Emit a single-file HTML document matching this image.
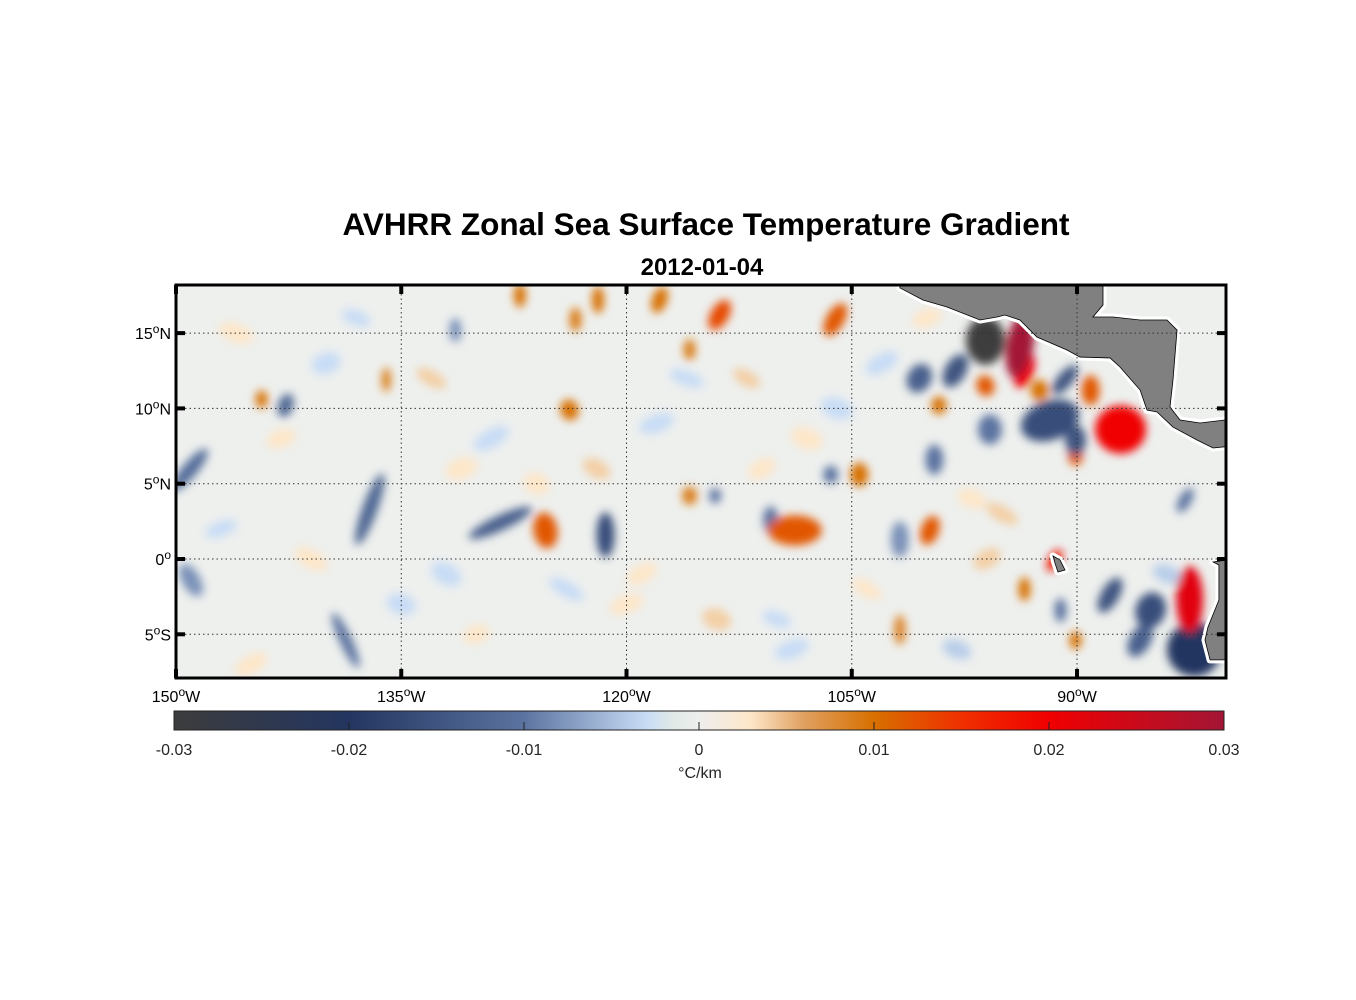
<!DOCTYPE html>
<html><head><meta charset="utf-8">
<style>
html,body{margin:0;padding:0;background:#fff;}
body{width:1356px;height:1000px;position:relative;overflow:hidden;font-family:"Liberation Sans",Arial,sans-serif;}
svg{position:absolute;left:0;top:0;}
</style></head>
<body>
<svg id="chart" width="1356" height="1000" viewBox="0 0 1356 1000">
<defs>
<filter id="blur" x="-50%" y="-50%" width="200%" height="200%"><feGaussianBlur stdDeviation="4.5"/></filter>
<clipPath id="mapclip"><rect x="176" y="285" width="1050" height="393"/></clipPath>
<linearGradient id="cmap" x1="0" x2="1" y1="0" y2="0">
<stop offset="0" stop-color="#3c3c3c"/>
<stop offset="0.1667" stop-color="#233560"/>
<stop offset="0.3333" stop-color="#5b73a0"/>
<stop offset="0.45" stop-color="#c8dcf5"/>
<stop offset="0.475" stop-color="#e0eae6"/>
<stop offset="0.5" stop-color="#eeeeee"/>
<stop offset="0.55" stop-color="#fde6c8"/>
<stop offset="0.6" stop-color="#e0a060"/>
<stop offset="0.6667" stop-color="#d77000"/>
<stop offset="0.75" stop-color="#f03000"/>
<stop offset="0.8333" stop-color="#f00000"/>
<stop offset="1" stop-color="#a31535"/>
</linearGradient>
</defs>
<text x="706" y="235" text-anchor="middle" font-size="31.5" font-weight="bold" fill="#000">AVHRR Zonal Sea Surface Temperature Gradient</text>
<text x="702" y="275" text-anchor="middle" font-size="24" font-weight="bold" fill="#000">2012-01-04</text>
<g id="map" clip-path="url(#mapclip)">
<rect x="176" y="285" width="1050" height="393" fill="#eef0ee"/>
<g id="blobs" filter="url(#blur)"></g>
<g id="land"></g>
<g id="grid"></g>
</g>
<g id="axes"></g>
<g id="cbar"></g>
</svg>
<script>
// Data: gradient anomaly blobs (lon, lat, value in 0.01 °C/km)
const blobLon = [-149.1,-142.7,-144.3,-137.1,-138.7,-149,-136,-131.4,-128.4,-125.4,-121.4,-123.8,-127.1,-123.4,-121.9,-117.8,-113.8,-115.8,-115.8,-114.1,-110.4,-108.8,-106.4,-106.1,-104.5,-99.8,-101.8,-101.8,-96.1,-93.8,-93.5,-98.1,-100.5,-96.1,-92.5,-90.8,-91.8,-90.1,-89.1,-87.1,-90.1,-99.2,-91.5,-93.5,-82.5,-87.8,-85.1,-82.2,-85.8,-82.8,-90.1,-91.1,-99.5,-95.8,
 -146,-140,-133,-129,-126,-118,-112,-108,-103,-97,-147,-141,-135,-130,-124,-119,-114,-109,-104,-98,-145,-138,-131,-122,-116,-111,-106,-100,-95,-86,-143,-132,-120,-110,-96,-84];
const blobLat = [5.9,10.2,10.6,3.3,-5.4,-1.4,11.9,15.2,2.4,1.9,1.6,9.9,17.5,15.9,17.2,17.2,16.2,13.9,4.2,4.2,2.6,1.9,5.6,15.9,5.6,1.9,1.3,-4.7,14.5,14.2,12.5,12.5,12,11.5,11.2,11.9,9.2,7.9,11.2,8.6,6.9,10.2,-0.1,-2,-2.7,-2.4,-3.4,-6,-5.4,3.9,-5.4,-3.4,6.6,8.6,
 15,13,12,8,5,9,12,8,13,4,2,0,-3,-5,-2,-1,-4,-6,-2,-6,-7,16,6,6,12,6,10,16,3,13,8,-1,-3,-4,0,-1];
const blobVal = [-1.1,-1.2,1,-1.2,-1,-0.8,0.9,-0.8,-1.3,1.2,-1.6,1,1,0.9,1,1,1.3,0.9,0.9,-1,-1,1.2,-1,1.2,1,1.2,-0.8,0.8,-3,3,2,-1.5,-1.3,1.2,1,-1.5,-1.6,-1.5,1.2,2,1.2,1,1.8,1,2.2,-1.5,-1.6,-2,-1.3,-1,1,-1,-1,-1,
 0.3,-0.3,0.4,-0.3,0.3,-0.3,0.4,0.3,-0.3,0.3,-0.3,0.3,-0.3,0.3,-0.3,0.3,0.4,-0.3,0.3,-0.4,0.3,-0.3,0.3,0.4,-0.3,0.3,-0.3,0.3,0.4,-0.3,0.3,-0.3,0.3,-0.3,0.4,-0.4];
const blobRx = [0.5,0.5,0.4,0.5,0.4,0.6,0.3,0.4,2.3,0.8,0.6,0.6,0.4,0.4,0.4,0.5,0.6,0.4,0.5,0.4,0.5,1.8,0.5,0.6,0.6,0.6,0.6,0.4,1.3,0.9,0.6,0.7,0.8,0.6,0.6,0.5,2,0.7,0.6,1.7,0.5,0.5,0.4,0.4,0.9,0.6,1,1.8,0.7,0.4,0.4,0.4,0.6,0.8,
 1.2,1,1.1,1.3,0.9,1.2,1,1.1,1.2,1,1.1,1.2,1,0.9,1.3,1.1,1,1.2,1.1,1,1.2,1,1.1,1,1.2,1,1.1,1,1.2,1,1,1.1,1.2,1,1,1];
const blobRy = [1.8,0.8,0.6,2.5,2,1.2,0.8,0.8,0.5,1.2,1.5,0.7,0.8,0.8,0.9,0.9,1.1,0.7,0.6,0.5,0.9,1,0.6,1.2,0.8,1,1.2,1,1.6,2.2,1.2,1.2,1,0.7,0.7,1.2,1.3,1,1,1.6,0.7,0.6,0.8,0.8,2.2,1.3,1.2,1.8,1.2,0.9,0.6,0.8,1,1,
 0.6,0.7,0.5,0.6,0.7,0.6,0.5,0.7,0.6,0.6,0.5,0.6,0.7,0.6,0.5,0.6,0.7,0.6,0.5,0.6,0.6,0.5,0.7,0.6,0.5,0.6,0.7,0.6,0.5,0.6,0.6,0.7,0.6,0.5,0.6,0.6];
const blobRot = [40,20,0,20,-25,-30,0,0,-25,-10,0,-20,0,0,0,20,30,0,0,0,0,0,0,30,0,20,0,0,0,10,20,30,30,-20,0,40,-20,0,0,0,0,0,30,0,0,30,20,0,30,30,0,0,0,0,
 20,-20,30,-30,20,-20,30,20,-30,20,-20,30,20,-20,30,-30,20,-20,30,20,-30,20,-20,30,20,-30,20,-20,30,20,-20,30,-20,20,-30,20];
// Land outlines in lon/lat
const landA = [[-101.79,18.6],[-101.79,18.0],[-100.26,17.2],[-98.66,16.73],[-96.46,15.87],[-95.33,16.07],[-94.8,16.2],[-93.8,15.87],[-92.67,14.74],[-90.67,13.88],[-89.8,13.41],[-87.8,13.35],[-87.14,12.75],[-85.8,11.22],[-85.34,9.89],[-84.67,9.76],[-83.61,8.76],[-82.01,7.9],[-80.94,7.37],[-80.28,7.44],[-79.5,7.5],[-79.5,9.23],[-80.15,9.23],[-81.81,9.03],[-83.14,9.23],[-83.81,10.09],[-83.61,11.89],[-83.34,15.2],[-84.01,15.87],[-85.8,15.87],[-87.6,16.07],[-88.94,16.07],[-88.27,16.87],[-88.27,18.6]];
const landB = [[-80.94,-0.2],[-80.08,-0.07],[-79,-0.07],[-79,-6.7],[-81.14,-6.7],[-81.48,-5.38],[-81.28,-4.52],[-80.55,-2.72],[-80.55,-0.4]];
const landC = [[-91.6,0.2],[-91.13,-0.07],[-90.8,-0.73],[-91.27,-0.86],[-91.47,-0.27]];
const lonTicks = [-150,-135,-120,-105,-90];
const lonLabels = ["150","135","120","105","90"];
const latTicks = [15,10,5,0,-5];
const latLabels = ["15","10","5","0","5"];
const latSuffix = ["N","N","N","",  "S"];
const cbTicks = [-3,-2,-1,0,1,2,3];
const cbLabels = ["-0.03","-0.02","-0.01","0","0.01","0.02","0.03"];

const NS="http://www.w3.org/2000/svg";
const X0=176,X1=1226,Y0=285,Y1=678;
const xScale=lon=>176+(lon+150)*15.017;
const yScale=lat=>559-lat*15.06;
function mk(tag,attrs,parent){const e=document.createElementNS(NS,tag);for(const k in attrs)e.setAttribute(k,attrs[k]);parent.appendChild(e);return e;}
const stops=[[-3,[60,60,60]],[-2,[35,53,96]],[-1,[91,115,160]],[-0.3,[200,220,245]],[-0.15,[224,234,230]],[0,[238,238,238]],[0.3,[253,230,200]],[0.6,[224,160,96]],[1,[215,112,0]],[1.5,[240,48,0]],[2,[240,0,0]],[3,[163,21,53]]];
function cmap(v){v=Math.max(-3,Math.min(3,v));for(let i=0;i<stops.length-1;i++){const a=stops[i],b=stops[i+1];if(v>=a[0]&&v<=b[0]){const t=(v-a[0])/(b[0]-a[0]);const c=a[1].map((x,j)=>Math.round(x+(b[1][j]-x)*t));return `rgb(${c})`;}}return "rgb(238,238,238)";}

const bg=document.getElementById('blobs');
const order=blobLon.map((_,i)=>i).sort((a,b)=>Math.abs(blobVal[a])-Math.abs(blobVal[b]));
order.forEach(i=>{
  const cx=xScale(blobLon[i]),cy=yScale(blobLat[i]);
  const e=mk('ellipse',{cx:cx,cy:cy,rx:blobRx[i]*15.017,ry:blobRy[i]*15.06,fill:cmap(blobVal[i]),transform:`rotate(${blobRot[i]} ${cx} ${cy})`},bg);
  
  
});
const lg=document.getElementById('land');
[landA,landB,landC].forEach((poly,i)=>{
  const pts=poly.map(q=>xScale(q[0])+','+yScale(q[1])).join(' ');
  mk('polygon',{points:pts,fill:'#fff',stroke:'#fff','stroke-width':7,'stroke-linejoin':'round'},lg);
  const p=mk('polygon',{points:pts,fill:'#808080',stroke:'#000','stroke-width':0.8},lg);
  
  
});
const gg=document.getElementById('grid');
lonTicks.forEach(l=>{const x=xScale(l);const e=mk('line',{x1:x,x2:x,y1:Y0,y2:Y1,stroke:'#333','stroke-width':1,'stroke-dasharray':'1.5 3'},gg);
  
  });
latTicks.forEach(l=>{const y=yScale(l);const e=mk('line',{x1:X0,x2:X1,y1:y,y2:y,stroke:'#333','stroke-width':1,'stroke-dasharray':'1.5 3'},gg);
  
  });

const ax=document.getElementById('axes');
const fr=mk('rect',{x:X0,y:Y0,width:X1-X0,height:Y1-Y0,fill:'none',stroke:'#000','stroke-width':3},ax);


lonTicks.forEach((l,i)=>{const x=xScale(l);
  mk('line',{x1:x,x2:x,y1:Y0,y2:Y0+9,stroke:'#000','stroke-width':4},ax);
  mk('line',{x1:x,x2:x,y1:Y1-9,y2:Y1,stroke:'#000','stroke-width':4},ax);
  const t=mk('text',{x:x,y:702,'text-anchor':'middle','font-size':16,fill:'#000'},ax);
  t.innerHTML=lonLabels[i]+'<tspan dy="-6" font-size="12">o</tspan><tspan dy="6">W</tspan>';
  
  });
latTicks.forEach((l,i)=>{const y=yScale(l);
  mk('line',{x1:X0,x2:X0+9,y1:y,y2:y,stroke:'#000','stroke-width':4},ax);
  mk('line',{x1:X1-9,x2:X1,y1:y,y2:y,stroke:'#000','stroke-width':4},ax);
  const t=mk('text',{x:171,y:y+6,'text-anchor':'end','font-size':16,fill:'#000'},ax);
  t.innerHTML=latLabels[i]+'<tspan dy="-6" font-size="12">o</tspan><tspan dy="6">'+latSuffix[i]+'</tspan>';
  
  });

const cb=document.getElementById('cbar');
const CB0=174,CB1=1224,CBY=711,CBH=19;
const cbx=v=>CB0+(v+3)/6*(CB1-CB0);
const r=mk('rect',{x:CB0,y:CBY,width:CB1-CB0,height:CBH,fill:'url(#cmap)',stroke:'#222','stroke-width':1},cb);


cbTicks.forEach((v,i)=>{const x=cbx(v);
  if(i>0&&i<cbTicks.length-1)mk('line',{x1:x,x2:x,y1:CBY+CBH-8,y2:CBY+CBH,stroke:'#222','stroke-width':1},cb);
  const t=mk('text',{x:x,y:755,'text-anchor':'middle','font-size':16,fill:'#262626'},cb);
  t.textContent=cbLabels[i];
  
  });
const u=mk('text',{x:700,y:778,'text-anchor':'middle','font-size':16,fill:'#262626'},cb);
u.textContent='°C/km';


</script>
</body></html>
